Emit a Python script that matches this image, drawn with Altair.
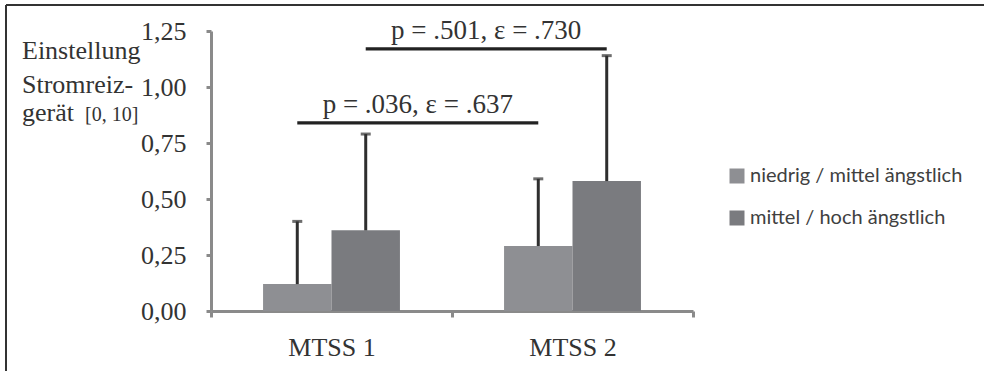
import altair as alt
import pandas as pd

# ---- data ----
groups = ["MTSS 1", "MTSS 2"]
group_pos = [1, 2]
series = ["niedrig / mittel ängstlich", "mittel / hoch ängstlich"]
series_colors = ["#8e8f93", "#7a7b7f"]
means_low = [0.12, 0.29]
means_high = [0.36, 0.58]
sd_low = [0.28, 0.30]
sd_high = [0.43, 0.56]
sig_series = [0, 1]          # which series is compared across MTSS 1 / MTSS 2
sig_level = [0.84, 1.17]
sig_labels = ["p = .036, ε = .637", "p = .501, ε = .730"]
y_ticks = [0, 0.25, 0.5, 0.75, 1.0, 1.25]

bar_w = 0.284
means = [means_low, means_high]
sds = [sd_low, sd_high]

rows = []
for gi, (g, p) in enumerate(zip(groups, group_pos)):
    for si, s in enumerate(series):
        x0 = p + (si - 1) * bar_w
        x1 = p + si * bar_w
        m = means[si][gi]
        rows.append(dict(group=g, series=s, x0=x0, x1=x1, xc=(x0 + x1) / 2,
                         mean=m, upper=m + sds[si][gi]))
df = pd.DataFrame(rows)

sig_rows = []
for si, lvl, lab in zip(sig_series, sig_level, sig_labels):
    sub = df[df.series == series[si]].sort_values("xc")
    xa, xb = sub.xc.iloc[0], sub.xc.iloc[-1]
    sig_rows.append(dict(xa=xa, xb=xb, xm=(xa + xb) / 2, y=lvl, label=lab))
sig = pd.DataFrame(sig_rows)

serif = "Liberation Serif"
txt = "#333333"
axis_gray = "#8a8a8a"

xscale = alt.Scale(domain=[0.5, 2.5], nice=False, zero=False)
yscale = alt.Scale(domain=[0, 1.25], nice=False)

label_expr = " : ".join(f"datum.value == {p} ? '{g}'" for g, p in zip(groups, group_pos)) + " : ''"

x_axis = alt.Axis(
    values=[0.5, 1, 1.5, 2, 2.5], labelExpr=label_expr, title=None, grid=False,
    domainColor=axis_gray, domainWidth=3, tickColor=axis_gray, tickWidth=3, tickSize=6,
    tickOpacity={"condition": {"test": "datum.value % 1 == 0", "value": 0}, "value": 1},
    labelFont=serif, labelFontSize=26, labelColor=txt, labelPadding=17, labelBaseline="top",
)
y_axis = alt.Axis(
    values=y_ticks, labelExpr="replace(format(datum.value, '.2f'), '.', ',')", title=None,
    grid=False, domainColor=axis_gray, domainWidth=3, tickColor=axis_gray, tickWidth=3,
    tickSize=5, labelFont=serif, labelFontSize=26, labelColor=txt, labelPadding=20,
)

base = alt.Chart(df)

bars = base.mark_bar(stroke=None).encode(
    x=alt.X("x0:Q", scale=xscale, axis=x_axis),
    x2="x1:Q",
    y=alt.Y("mean:Q", scale=yscale, axis=y_axis),
    y2=alt.datum(0),
    color=alt.Color("series:N", scale=alt.Scale(domain=series, range=series_colors),
                    legend=alt.Legend(title=None, orient="none", legendX=516, legendY=135,
                                      symbolType="square", symbolSize=225, symbolStrokeWidth=0,
                                      symbolOpacity=1, labelLimit=0,
                                      labelFont="Lato", labelFontSize=20, labelColor="#404040",
                                      labelOffset=3, rowPadding=22, padding=0)),
)

err = base.mark_rule(color="#2f2f2f", strokeWidth=3).encode(
    x="xc:Q", y="mean:Q", y2="upper:Q"
)
caps = base.mark_tick(orient="horizontal", size=10, thickness=3, color="#2f2f2f").encode(
    x="xc:Q", y="upper:Q"
)

sig_base = alt.Chart(sig)
sig_lines = sig_base.mark_rule(color="#222222", strokeWidth=3.3).encode(
    x="xa:Q", x2="xb:Q", y="y:Q"
)
sig_text = sig_base.mark_text(font=serif, fontSize=27, color=txt, dy=-10,
                              baseline="alphabetic", align="center").encode(
    x="xm:Q", y="y:Q", text="label:N"
)

title_df = pd.DataFrame({"t": [0]})
tb = alt.Chart(title_df)
t1 = tb.mark_text(text="Einstellung", font=serif, fontSize=26, color=txt, align="left",
                  baseline="alphabetic").encode(x=alt.value(-189), y=alt.value(28))
t2 = tb.mark_text(text="Stromreiz-", font=serif, fontSize=26, color=txt, align="left",
                  baseline="alphabetic").encode(x=alt.value(-189), y=alt.value(62))
t3 = tb.mark_text(text="gerät", font=serif, fontSize=26, color=txt, align="left",
                  baseline="alphabetic").encode(x=alt.value(-189), y=alt.value(90))
t4 = tb.mark_text(text="[0, 10]", font=serif, fontSize=20, color=txt, align="left",
                  baseline="alphabetic").encode(x=alt.value(-126), y=alt.value(90))

frame_top = tb.mark_rule(color="#333333", strokeWidth=2).encode(
    x=alt.value(-205), x2=alt.value(773), y=alt.value(-26))
frame_left = tb.mark_rule(color="#333333", strokeWidth=2).encode(
    x=alt.value(-205), y=alt.value(-26), y2=alt.value(340))

chart = alt.layer(
    bars, err, caps, sig_lines, sig_text, t1, t2, t3, t4, frame_top, frame_left
).properties(
    width=482, height=280,
    autosize=alt.AutoSizeParams(type="none"),
    padding={"left": 211, "top": 31, "right": 291, "bottom": 60},
    background="white",
).configure_view(stroke=None)

chart.save("out.html", embed_options={"renderer": "svg", "actions": False})
